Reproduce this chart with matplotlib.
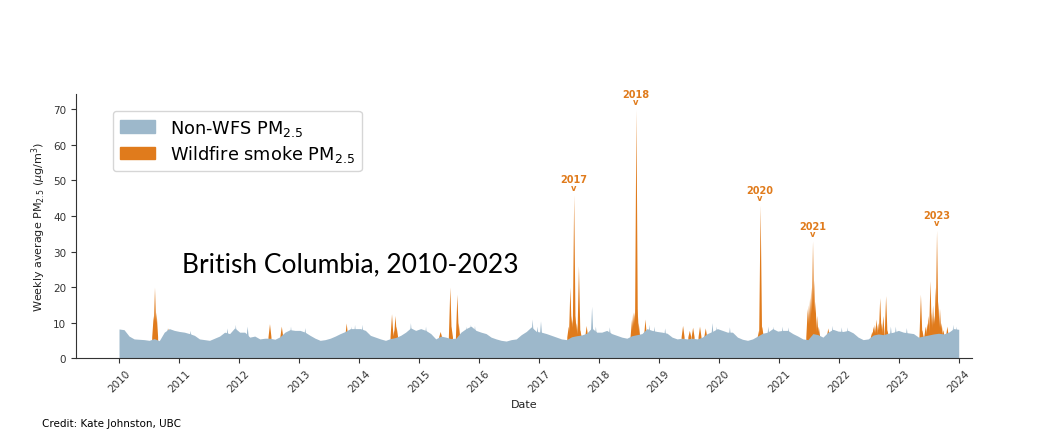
import numpy as np
import pandas as pd
import matplotlib
matplotlib.use("Agg")
import matplotlib.pyplot as plt

# --- Datos ---
years = list(range(2010, 2024))
non_wfs = [
    8.2, 8.0, 6.2, 5.4, 5.3, 5.2, 5.0, 5.5, 4.9, 7.3, 8.3, 7.8,   # 2010
    7.5, 7.3, 6.9, 6.4, 5.4, 5.2, 5.0, 5.6, 6.2, 7.3, 6.9, 8.5,   # 2011
    7.3, 7.3, 5.9, 6.2, 5.4, 5.6, 5.6, 5.3, 6.0, 7.3, 8.0, 7.8,   # 2012
    7.8, 7.3, 6.4, 5.6, 5.0, 5.2, 5.6, 6.2, 6.9, 7.5, 8.3, 8.3,   # 2013
    8.3, 7.8, 6.4, 5.9, 5.4, 5.0, 5.5, 5.8, 6.4, 7.3, 8.5, 7.8,   # 2014
    8.3, 7.8, 6.9, 5.4, 6.2, 5.9, 5.5, 5.6, 7.3, 8.3, 9.0, 7.8,   # 2015
    7.3, 6.9, 5.9, 5.4, 5.0, 4.8, 5.2, 5.4, 6.6, 7.5, 8.8, 7.5,   # 2016
    7.3, 6.9, 6.4, 5.9, 5.4, 5.2, 6.0, 6.3, 6.5, 7.0, 8.5, 7.3,   # 2017
    7.3, 7.8, 6.9, 6.4, 5.9, 5.6, 6.3, 6.6, 6.9, 8.3, 7.8, 7.5,   # 2018
    7.3, 7.0, 5.9, 5.4, 5.6, 5.4, 5.6, 5.4, 5.9, 6.9, 7.5, 8.3,   # 2019
    7.8, 7.3, 7.3, 5.9, 5.3, 5.0, 5.4, 6.2, 7.0, 7.3, 8.3, 7.6,   # 2020
    7.8, 7.8, 6.9, 6.2, 5.4, 5.2, 6.9, 6.6, 5.9, 7.3, 8.1, 7.6,   # 2021
    7.5, 7.8, 7.1, 5.9, 5.2, 5.4, 6.5, 6.8, 6.6, 7.0, 7.3, 7.8,   # 2022
    7.3, 7.1, 6.9, 5.9, 6.2, 6.5, 6.8, 7.0, 6.8, 7.3, 8.3, 8.1,   # 2023
]

# semanas altas sin humo
non_wfs_peak_dates = ['2010-10-20', '2011-03-10', '2011-10-20', '2011-12-10',
                      '2012-02-20', '2012-11-10', '2013-02-05', '2013-11-15',
                      '2013-12-05', '2014-01-20', '2014-11-10', '2015-02-10',
                      '2015-10-15', '2015-11-10', '2015-12-05', '2016-11-20',
                      '2016-12-20', '2017-01-10', '2017-11-17', '2017-12-10',
                      '2018-03-05', '2018-11-01', '2018-12-01', '2019-02-05',
                      '2019-11-20', '2019-12-15', '2020-03-05', '2020-10-25',
                      '2020-11-25', '2021-01-20', '2021-02-25', '2021-11-20',
                      '2022-01-15', '2022-02-20', '2022-11-10', '2022-12-10',
                      '2023-02-15', '2023-11-25', '2023-12-15']
non_wfs_peak_vals = [8.5, 7.8, 8.5, 9.5, 9.0, 9.0, 8.6, 9.0,
                     9.5, 9.5, 10.0, 9.0, 9.0, 9.5, 9.2, 11.0,
                     9.0, 10.5, 14.6, 9.0, 8.8, 9.5, 9.0, 8.5,
                     10.0, 9.0, 8.8, 9.0, 9.0, 9.0, 8.8, 9.2,
                     8.8, 8.8, 9.0, 9.0, 8.6, 9.5, 9.0]

# semanas con humo de incendios (PM2.5 total)
smoke_dates = [
    '2010-07-28', '2010-08-05', '2010-08-15', '2010-10-25',
    '2012-07-05', '2012-09-15', '2013-10-15',
    '2014-07-18', '2014-08-01', '2014-08-08', '2014-08-15',
    '2015-05-10', '2015-07-08', '2015-07-15', '2015-08-20', '2015-08-28',
    '2017-06-28', '2017-07-08', '2017-07-15', '2017-07-22', '2017-07-31',
    '2017-08-08', '2017-08-16', '2017-08-29', '2017-09-06', '2017-10-15',
    '2018-07-18', '2018-07-25', '2018-08-01', '2018-08-07', '2018-08-14',
    '2018-08-21', '2018-08-28', '2018-10-08',
    '2019-05-25', '2019-07-05', '2019-07-25', '2019-09-05', '2019-10-10',
    '2020-08-30', '2020-09-08', '2020-09-18',
    '2021-06-22', '2021-06-29', '2021-07-06', '2021-07-13', '2021-07-24',
    '2021-07-31', '2021-08-08', '2021-08-18', '2021-08-28', '2021-10-25',
    '2022-07-20', '2022-07-28', '2022-08-05', '2022-08-15', '2022-08-25',
    '2022-09-06', '2022-09-15', '2022-09-25', '2022-10-12', '2022-10-20',
    '2023-05-12', '2023-05-20', '2023-06-10', '2023-06-20', '2023-06-28',
    '2023-07-09', '2023-07-17', '2023-07-25', '2023-08-02', '2023-08-10',
    '2023-08-18', '2023-08-26', '2023-09-05', '2023-09-15', '2023-09-25',
    '2023-10-20',
]
smoke_vals = [
    12, 20, 13, 8.5,
    9.7, 9.0, 9.9,
    12.5, 8.0, 12.0, 9.0,
    7.5, 20, 9, 18, 10,
    9, 20, 12, 11, 46,
    12, 10, 26, 8, 9.2,
    11, 13, 13, 14, 70,
    14, 10, 11,
    9.2, 7.8, 8.7, 9.0, 8.5,
    8, 43, 9,
    14, 15, 17, 20, 33,
    22, 16, 12, 9, 8.5,
    7.5, 9, 9.5, 11, 10,
    17, 10, 12, 17.6, 8,
    18, 8, 9, 10, 12,
    21.8, 13, 15, 12, 20,
    36, 16, 14, 10, 8,
    9,
]

label_years = ['2017', '2018', '2020', '2021', '2023']
label_dates = ['2017-07-31', '2018-08-14', '2020-09-08', '2021-07-24', '2023-08-18']
label_vals = [46, 70, 43, 33, 36]

blue = '#9db8cb'
orange = '#e07b1c'

# --- Figura ---
fig = plt.figure(figsize=(10.48, 4.39), dpi=100)
ax = fig.add_axes([0.0725, 0.182, 0.855, 0.602])

half = pd.Timedelta(days=9)

# humo (naranja) debajo, la parte baja queda tapada por el azul
for d, v in zip(smoke_dates, smoke_vals):
    d = pd.Timestamp(d)
    ax.fill_between([d - half, d, d + half], 0, [6, v, 6], color=orange,
                    linewidth=0, zorder=1)

dates = pd.date_range('2010-01-01', '2023-12-31', periods=len(non_wfs))
ax.fill_between(dates, 0, non_wfs, color=blue, linewidth=0, zorder=2)
for d, v in zip(non_wfs_peak_dates, non_wfs_peak_vals):
    d = pd.Timestamp(d)
    ax.fill_between([d - half, d, d + half], 0, [5, v, 5], color=blue,
                    linewidth=0, zorder=2)

# etiquetas de los anos
for t, d, v in zip(label_years, label_dates, label_vals):
    d = pd.Timestamp(d)
    ax.annotate(t, (d, v), xytext=(0, 11), textcoords='offset points',
                ha='center', va='center', fontsize=7, fontweight='bold',
                color=orange)
    ax.annotate('v', (d, v), xytext=(0, 5.5), textcoords='offset points',
                ha='center', va='center', fontsize=6, fontweight='bold',
                color=orange)

# leyenda
h1 = plt.Rectangle((0, 0), 1, 1, color=blue)
h2 = plt.Rectangle((0, 0), 1, 1, color=orange)
ax.legend([h1, h2], [r'Non-WFS PM$_{2.5}$', r'Wildfire smoke PM$_{2.5}$'],
          loc='upper left', bbox_to_anchor=(0.041, 0.936), borderaxespad=0,
          fontsize=12.8, handlelength=2.0, labelspacing=0.3,
          borderpad=0.4, fancybox=True)

# ejes
ax.set_xlim(pd.Timestamp('2009-04-14'), pd.Timestamp('2024-03-21'))
ax.set_ylim(0, 74.4)
ax.set_yticks(range(0, 80, 10))
ax.set_xticks([pd.Timestamp(f'{y}-01-01') for y in years + [2024]])
ax.set_xticklabels([str(y) for y in years + [2024]], rotation=45)
ax.tick_params(labelsize=7.5, colors='#333333')
ax.spines['top'].set_visible(False)
ax.spines['right'].set_visible(False)
for s in ['left', 'bottom']:
    ax.spines[s].set_color('#333333')
ax.set_xlabel('Date', fontsize=8, color='#222222')
ax.set_ylabel(r'Weekly average PM$_{2.5}$ ($\mu$g/m$^3$)', fontsize=8,
              color='#222222')

fig.text(0.174, 0.396, 'British Columbia, 2010-2023', fontsize=19,
         family=['Lato', 'DejaVu Sans'], va='center', ha='left')
fig.text(0.040, 0.034, 'Credit: Kate Johnston, UBC', fontsize=7.5,
         family=['Liberation Sans Narrow', 'DejaVu Sans'], va='center')

plt.savefig('out.png', dpi=100)
